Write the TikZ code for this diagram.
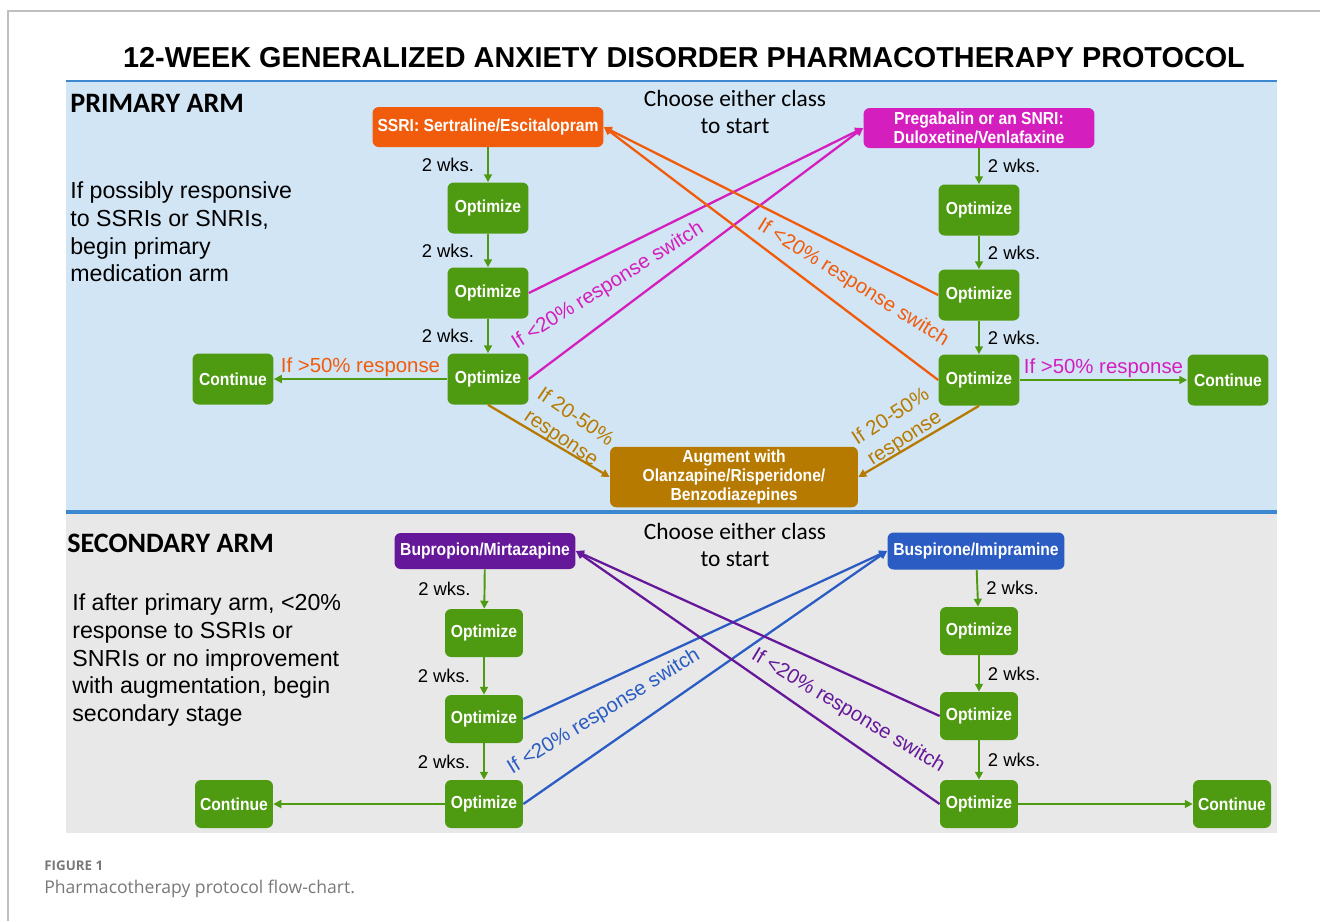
\documentclass[tikz,border=0pt]{standalone}
\usepackage{fontspec}
\setmainfont{Liberation Sans}
\newfontfamily\calibfont{Carlito}
\newfontfamily\boxfont[FakeStretch=0.9]{Liberation Sans}
\newfontfamily\capfont{Open Sans}
\usetikzlibrary{arrows.meta}

\definecolor{paneblue}{RGB}{210,229,245}
\definecolor{panegray}{RGB}{232,232,232}
\definecolor{ruleblue}{RGB}{59,135,208}
\definecolor{optgreen}{RGB}{78,154,16}
\definecolor{ssriorange}{RGB}{241,92,12}
\definecolor{pregmag}{RGB}{212,30,190}
\definecolor{augbrown}{RGB}{183,122,0}
\definecolor{bupurple}{RGB}{102,24,154}
\definecolor{buspblue}{RGB}{42,92,196}
\definecolor{capgray}{RGB}{120,120,120}

\begin{document}
\begin{tikzpicture}[x=0.02cm, y=-0.02cm,
  >={Triangle[length=4.5pt, width=4.5pt]},
  box/.style={rounded corners=3.5pt, inner sep=2pt, align=center, text=white,
    font=\boxfont\bfseries\fontsize{9.9}{10.6}\selectfont},
  opt/.style={box, fill=optgreen, minimum width=1.62cm, minimum height=1.02cm},
  sopt/.style={box, fill=optgreen, minimum width=1.56cm, minimum height=0.96cm},
  wks/.style={text=black, font=\fontsize{10.5}{12}\selectfont, inner sep=0pt},
  flow/.style={->, line width=1.1pt, optgreen},
  switch/.style={->, line width=1.3pt},
  lbl/.style={font=\fontsize{11.6}{14.5}\selectfont, inner sep=1pt},
  armtext/.style={anchor=north west, inner sep=0pt, align=left, font=\fontsize{13.2}{15.9}\selectfont},
  choose/.style={anchor=north, inner sep=0pt, align=center, font=\calibfont\fontsize{13.3}{15.3}\selectfont},
  armtitle/.style={anchor=base west, inner sep=0pt, font=\calibfont\bfseries\fontsize{16}{19}\selectfont}]
\useasboundingbox (0, 0) rectangle (1320, 921);
\draw [black!25, line width=0.6pt] (8, 921) -- (8, 11) -- (1320, 11);

\fill [paneblue] (66, 81) rectangle (1277, 512);
\fill [panegray] (66, 513) rectangle (1277, 833);
\draw [ruleblue, line width=1.6pt] (66, 81) -- (1277, 81);
\draw [ruleblue, line width=2pt] (66, 512) -- (1277, 512);

\node [font=\bfseries\fontsize{16.4}{19}\selectfont] (title) at (684, 58) {12-WEEK GENERALIZED ANXIETY DISORDER PHARMACOTHERAPY PROTOCOL};

\node [armtitle] (primtitle) at (70, 112) {PRIMARY ARM};
\node [armtext] (primtext) at (70, 181) {If possibly responsive\\to SSRIs or SNRIs,\\begin primary\\medication arm};
\node [choose] (primchoose) at (735, 90) {Choose either class\\to start};

\node [box, fill=ssriorange, minimum width=4.62cm, minimum height=0.8cm] (ssri) at (488, 127) {SSRI: Sertraline/Escitalopram};
\node [box, fill=pregmag, minimum width=4.62cm, minimum height=0.8cm] (preg) at (979, 128) {Pregabalin or an SNRI:\\Duloxetine/Venlafaxine};

\node [opt] (pl1) at (488, 208) {Optimize};
\node [opt] (pl2) at (488, 293) {Optimize};
\node [opt] (pl3) at (488, 379) {Optimize};
\node [opt] (pcl) at (233, 379) {Continue};
\node [opt] (pr1) at (979, 210) {Optimize};
\node [opt] (pr2) at (979, 295) {Optimize};
\node [opt] (pr3) at (979, 380) {Optimize};
\node [opt] (pcr) at (1228, 380) {Continue};
\node [box, fill=augbrown, minimum width=4.96cm, minimum height=1.0cm] (aug) at (734, 477) {Augment with\\Olanzapine/Risperidone/\\Benzodiazepines};

\draw [flow] (ssri) -- node [wks, left=0.26cm] {2 wks.} (pl1);
\draw [flow] (pl1) -- node [wks, left=0.26cm] {2 wks.} (pl2);
\draw [flow] (pl2) -- node [wks, left=0.26cm] {2 wks.} (pl3);
\draw [flow] (preg) -- node [wks, right=0.16cm] {2 wks.} (pr1);
\draw [flow] (pr1) -- node [wks, right=0.16cm] {2 wks.} (pr2);
\draw [flow] (pr2) -- node [wks, right=0.16cm] {2 wks.} (pr3);
\draw [flow] (pl3) -- node [lbl, above, text=ssriorange] {If >50\% response} (pcl);
\draw [flow] (pr3) -- node [lbl, above, text=pregmag] {If >50\% response} (pcr);

\draw [switch, pregmag] (pl2.east) -- (preg.west);
\draw [switch, pregmag] (pl3.east) -- (preg.west);
\draw [switch, ssriorange] (pr2.west) -- (ssri.east);
\draw [switch, ssriorange] (pr3.west) -- (ssri.east);
\draw [switch, augbrown] (pl3.south) -- (aug.west);
\draw [switch, augbrown] (pr3.south) -- (aug.east);
\node [lbl, text=pregmag, rotate=32] (pswl) at (608, 286) {If <20\% response switch};
\node [lbl, text=ssriorange, rotate=-32] (pswr) at (853, 283) {If <20\% response switch};
\node [lbl, text=augbrown, rotate=-34, align=center] (paugl) at (568, 428) {If 20-50\%\\response};
\node [lbl, text=augbrown, rotate=33, align=center] (paugr) at (898, 428) {If 20-50\%\\response};

\node [armtitle] (sectitle) at (67, 552) {SECONDARY ARM};
\node [armtext] (sectext) at (72, 593) {If after primary arm, <20\%\\response to SSRIs or\\SNRIs or no improvement\\with augmentation, begin\\secondary stage};
\node [choose] (secchoose) at (735, 523) {Choose either class\\to start};

\node [box, fill=bupurple, minimum width=3.62cm, minimum height=0.72cm] (bup) at (485, 551) {Bupropion/Mirtazapine};
\node [box, fill=buspblue, minimum width=3.54cm, minimum height=0.74cm] (busp) at (976, 551) {Buspirone/Imipramine};

\node [sopt] (sl1) at (484, 633) {Optimize};
\node [sopt] (sl2) at (484, 719) {Optimize};
\node [sopt] (sl3) at (484, 804) {Optimize};
\node [sopt] (scl) at (234, 804) {Continue};
\node [sopt] (sr1) at (979, 631) {Optimize};
\node [sopt] (sr2) at (979, 716) {Optimize};
\node [sopt] (sr3) at (979, 804) {Optimize};
\node [sopt] (scr) at (1232, 804) {Continue};

\draw [flow] (bup) -- node [wks, left=0.26cm] {2 wks.} (sl1);
\draw [flow] (sl1) -- node [wks, left=0.26cm] {2 wks.} (sl2);
\draw [flow] (sl2) -- node [wks, left=0.26cm] {2 wks.} (sl3);
\draw [flow] (busp) -- node [wks, right=0.16cm] {2 wks.} (sr1);
\draw [flow] (sr1) -- node [wks, right=0.16cm] {2 wks.} (sr2);
\draw [flow] (sr2) -- node [wks, right=0.16cm] {2 wks.} (sr3);
\draw [flow] (sl3) -- (scl);
\draw [flow] (sr3) -- (scr);

\draw [switch, buspblue] (sl2.east) -- (busp.west);
\draw [switch, buspblue] (sl3.east) -- (busp.west);
\draw [switch, bupurple] (sr2.west) -- (bup.east);
\draw [switch, bupurple] (sr3.west) -- (bup.east);
\node [lbl, text=buspblue, rotate=31.5] (sswl) at (604, 712) {If <20\% response switch};
\node [lbl, text=bupurple, rotate=-31] (sswr) at (848, 711) {If <20\% response switch};

\node [anchor=base west, inner sep=0pt, text=capgray, font=\capfont\bfseries\fontsize{7.6}{9}\selectfont] (figno) at (44, 870) {FIGURE 1};
\node [anchor=base west, inner sep=0pt, text=capgray, font=\capfont\fontsize{10}{12}\selectfont] (figcap) at (44, 893) {Pharmacotherapy protocol flow-chart.};
\end{tikzpicture}
\end{document}
